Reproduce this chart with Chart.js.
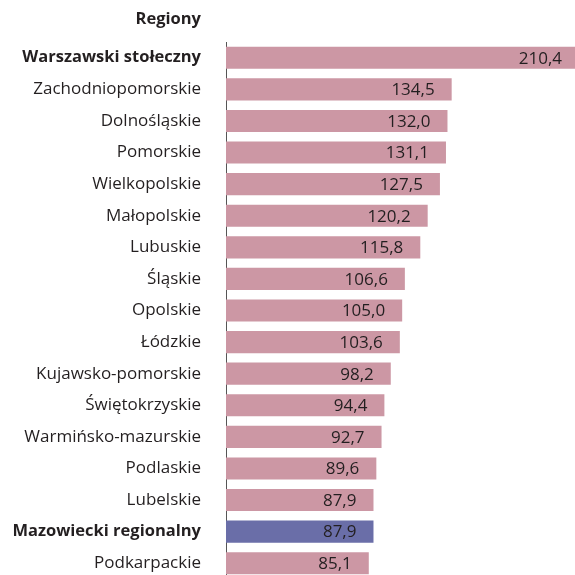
<!DOCTYPE html>
<html>
<head>
<meta charset="utf-8">
<script src="https://cdn.jsdelivr.net/npm/chart.js@4.4.1/dist/chart.umd.min.js"></script>
<style>
  html, body { margin: 0; padding: 0; background: #fff; overflow: hidden; }
  canvas { display: block; }
</style>
</head>
<body>
<canvas id="chart" width="575" height="580"></canvas>
<script>
// Regions and their index values
var regions = [
  "Warszawski stołeczny", "Zachodniopomorskie", "Dolnośląskie", "Pomorskie",
  "Wielkopolskie", "Małopolskie", "Lubuskie", "Śląskie", "Opolskie", "Łódzkie",
  "Kujawsko-pomorskie", "Świętokrzyskie", "Warmińsko-mazurskie", "Podlaskie",
  "Lubelskie", "Mazowiecki regionalny", "Podkarpackie"
];
var values = [210.4, 134.5, 132.0, 131.1, 127.5, 120.2, 115.8, 106.6, 105.0,
  103.6, 98.2, 94.4, 92.7, 89.6, 87.9, 87.9, 85.1];
var boldRegions = ["Warszawski stołeczny", "Mazowiecki regionalny"];
var highlight = "Mazowiecki regionalny";

var FONT = "'Open Sans', 'Noto Sans', sans-serif";
var TEXT = "#231f20";

var barColors = regions.map(function(r) {
  return r === highlight ? "#6a6ea8" : "#cc97a4";
});

// header above the category labels
var headerPlugin = {
  id: "header",
  afterDraw: function(chart) {
    var ctx = chart.ctx;
    ctx.save();
    ctx.font = "bold 16.5px " + FONT;
    ctx.fillStyle = TEXT;
    ctx.textAlign = "right";
    ctx.textBaseline = "middle";
    ctx.fillText("Regiony", 201, 19);
    ctx.restore();
  }
};

// value printed inside the end of each bar
var valuePlugin = {
  id: "values",
  afterDatasetsDraw: function(chart) {
    var ctx = chart.ctx;
    var meta = chart.getDatasetMeta(0);
    ctx.save();
    ctx.font = "17px " + FONT;
    ctx.fillStyle = TEXT;
    ctx.textAlign = "right";
    ctx.textBaseline = "middle";
    meta.data.forEach(function(bar, i) {
      var txt = values[i].toFixed(1).replace(".", ",");
      ctx.fillText(txt, bar.x - 17, bar.y + 1);
    });
    ctx.restore();
  }
};

new Chart(document.getElementById("chart"), {
  type: "bar",
  data: {
    labels: regions,
    datasets: [{
      data: values,
      backgroundColor: barColors,
      barPercentage: 0.7,
      categoryPercentage: 1.0
    }]
  },
  options: {
    indexAxis: "y",
    responsive: false,
    animation: false,
    layout: { padding: { top: 42, bottom: 1, right: 0, left: 0 } },
    plugins: {
      legend: { display: false },
      tooltip: { enabled: false }
    },
    scales: {
      x: {
        display: false,
        min: 0,
        max: 208
      },
      y: {
        grid: { display: false, drawTicks: false },
        border: { display: true, color: "#555", width: 1 },
        ticks: {
          padding: 25,
          color: TEXT,
          font: function(c) {
            var bold = boldRegions.indexOf(regions[c.index]) >= 0;
            return bold ? { family: FONT, size: 16.5, weight: "bold" }
                        : { family: FONT, size: 17, weight: "normal" };
          }
        },
        afterFit: function(scale) {
          scale.width = 226;
          // no extra room above/below the first and last label
          scale.paddingTop = 0;
          scale.paddingBottom = 0;
        }
      }
    }
  },
  plugins: [headerPlugin, valuePlugin]
});
</script>
</body>
</html>
